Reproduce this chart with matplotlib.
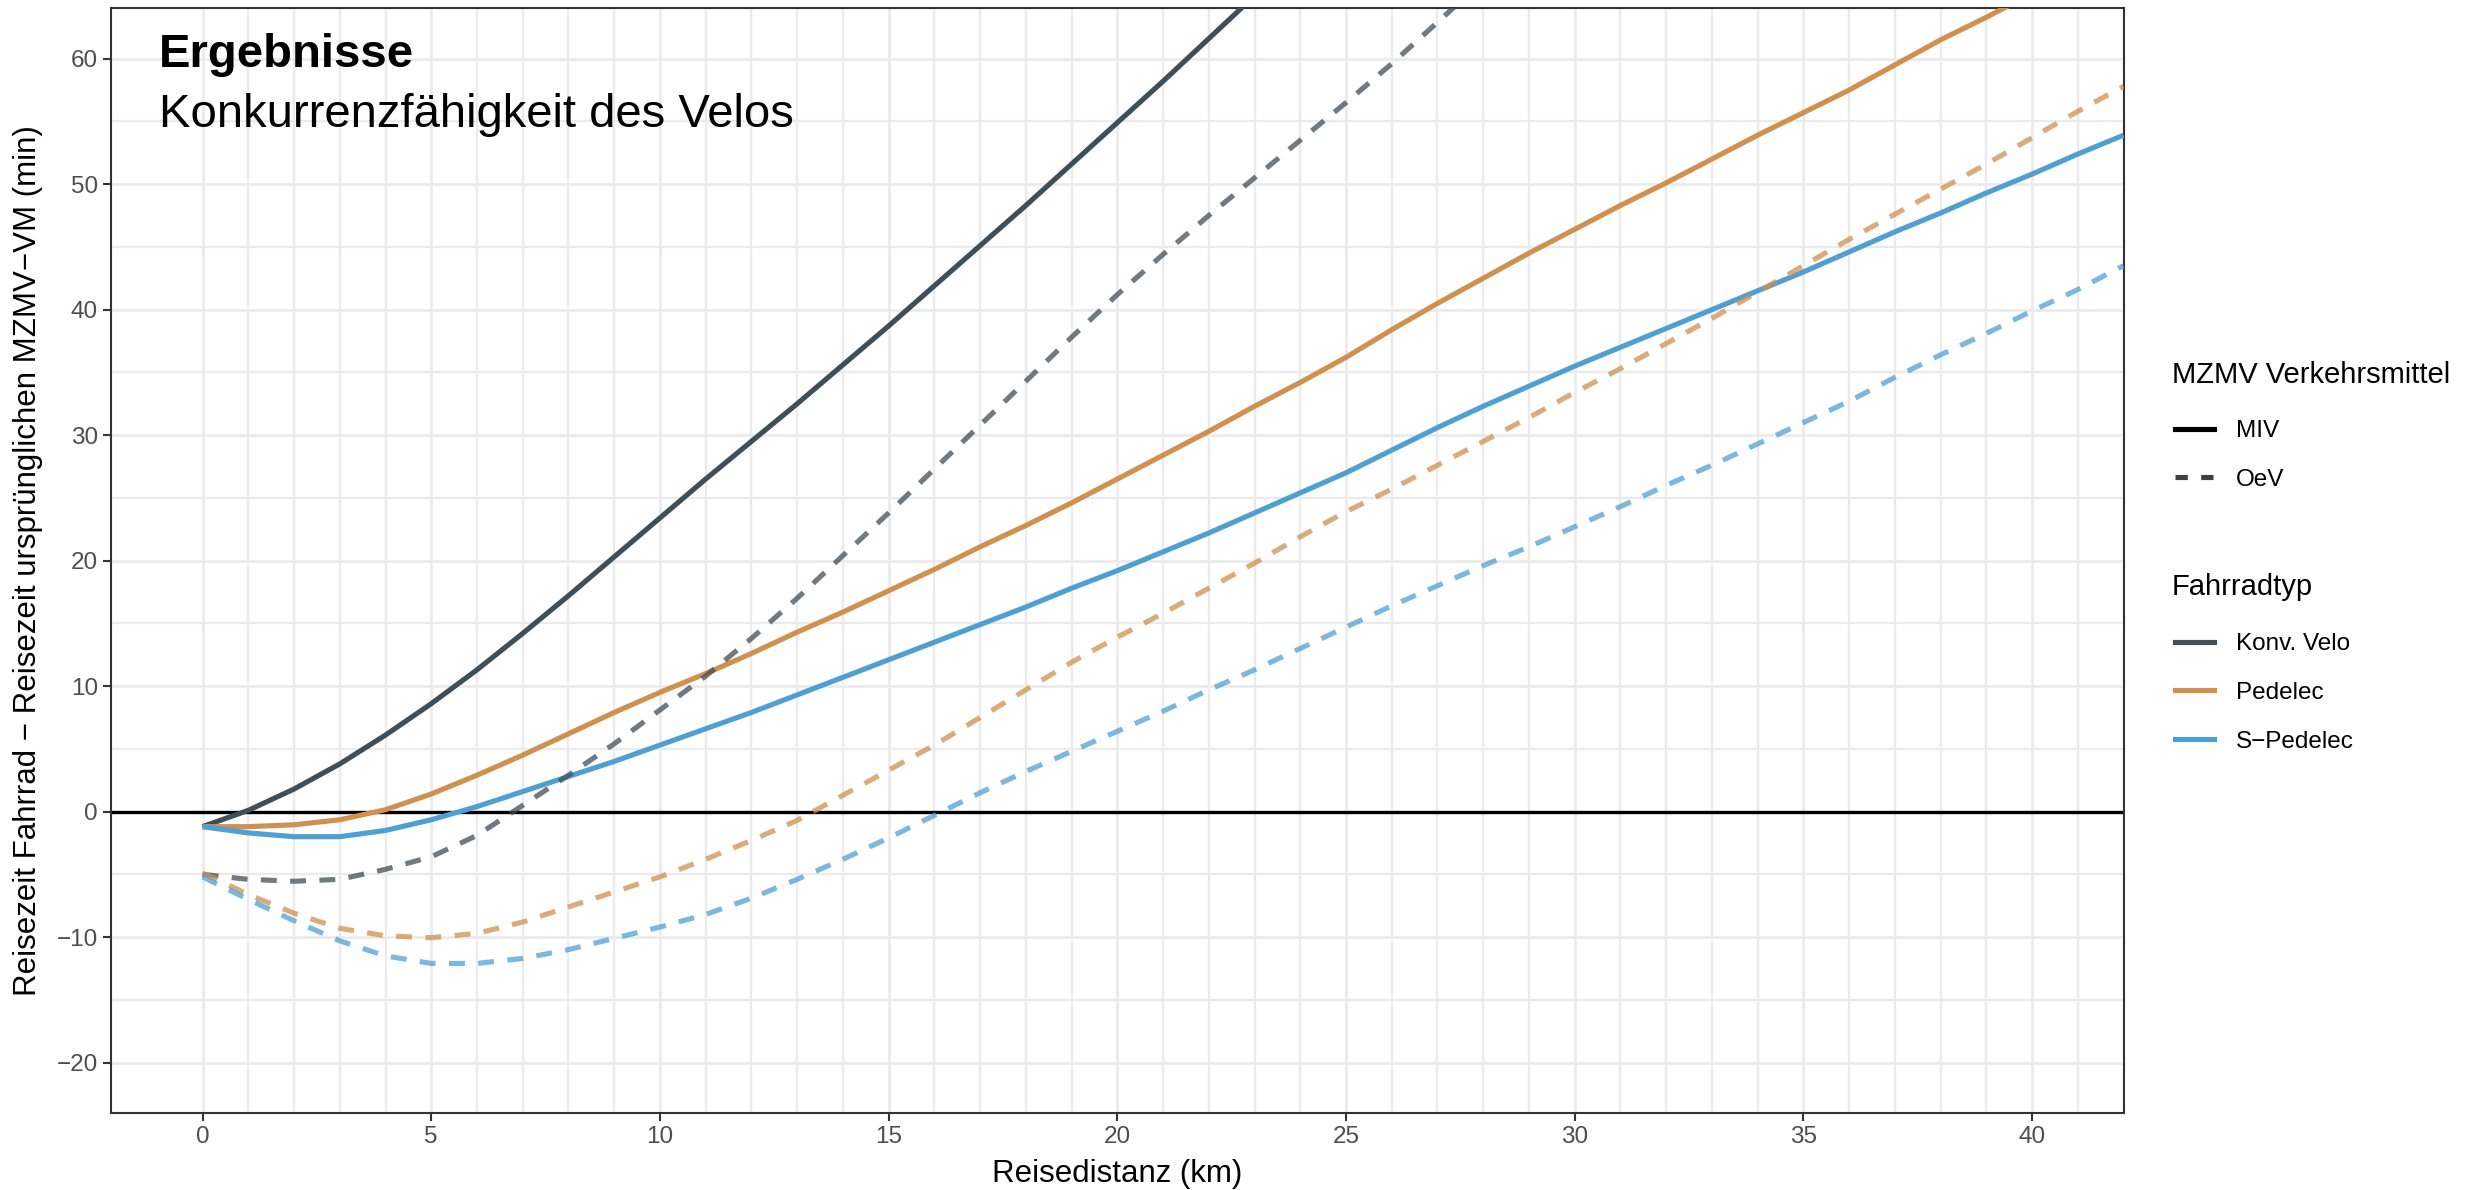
import matplotlib
matplotlib.use("Agg")
import matplotlib.pyplot as plt
from matplotlib.lines import Line2D
import numpy as np

plt.rcParams['font.family'] = ['Liberation Sans', 'DejaVu Sans']

# ---------------- data ----------------
distance_km = list(range(0, 43))

konv_miv = [-1.2, 0.1, 1.8, 3.8, 6.1, 8.6, 11.3, 14.2, 17.2, 20.3, 23.4, 26.5, 29.5, 32.5,
            35.6, 38.7, 41.9, 45.1, 48.3, 51.6, 54.9, 58.2, 61.6, 65.0, 68.4]
konv_oev = [-5.0, -5.4, -5.55, -5.4, -4.6, -3.6, -1.9, 0.5, 2.9, 5.4, 8.1, 10.8, 13.8, 17.0,
            20.4, 23.8, 27.3, 30.8, 34.3, 37.8, 41.2, 44.4, 47.5, 50.5, 53.5, 56.5, 59.6,
            62.9, 66.2]
pedelec_miv = [-1.2, -1.2, -1.05, -0.65, 0.15, 1.4, 2.9, 4.5, 6.2, 7.9, 9.5, 11.0, 12.6, 14.3,
               15.9, 17.6, 19.3, 21.1, 22.8, 24.6, 26.5, 28.4, 30.3, 32.3, 34.2, 36.2, 38.4,
               40.5, 42.5, 44.5, 46.4, 48.3, 50.1, 52.0, 53.9, 55.7, 57.5, 59.5, 61.5, 63.3,
               65.2, 67.1]
pedelec_oev = [-4.9, -6.6, -8.1, -9.3, -9.9, -10.05, -9.7, -8.8, -7.6, -6.4, -5.2, -3.8, -2.3,
               -0.7, 1.3, 3.3, 5.3, 7.5, 9.7, 11.9, 13.9, 15.8, 17.8, 19.8, 21.9, 23.9, 25.7,
               27.6, 29.5, 31.4, 33.4, 35.3, 37.3, 39.3, 41.4, 43.5, 45.6, 47.6, 49.6, 51.6,
               53.7, 55.8, 57.8]
spedelec_miv = [-1.2, -1.7, -2.0, -2.0, -1.5, -0.65, 0.4, 1.6, 2.8, 4.0, 5.3, 6.6, 7.9, 9.3,
                10.7, 12.1, 13.5, 14.9, 16.3, 17.8, 19.2, 20.7, 22.2, 23.8, 25.4, 27.0, 28.8,
                30.6, 32.3, 33.9, 35.5, 37.0, 38.5, 40.0, 41.5, 43.0, 44.6, 46.2, 47.7, 49.3,
                50.8, 52.4, 53.9]
spedelec_oev = [-5.2, -7.0, -8.7, -10.3, -11.5, -12.1, -12.1, -11.7, -11.0, -10.1, -9.2, -8.2,
                -6.9, -5.4, -3.8, -2.1, -0.3, 1.5, 3.2, 4.8, 6.4, 8.0, 9.7, 11.3, 13.0, 14.7,
                16.4, 18.0, 19.6, 21.1, 22.7, 24.3, 26.0, 27.6, 29.3, 31.0, 32.7, 34.6, 36.4,
                38.1, 39.9, 41.6, 43.5]

bike_types = ["Konv. Velo", "Pedelec", "S\u2212Pedelec"]
modes = ["MIV", "OeV"]
colors = {"Konv. Velo": "#404E57", "Pedelec": "#D0904F", "S\u2212Pedelec": "#4F9FD3"}
series = {
    ("Konv. Velo", "MIV"): konv_miv, ("Konv. Velo", "OeV"): konv_oev,
    ("Pedelec", "MIV"): pedelec_miv, ("Pedelec", "OeV"): pedelec_oev,
    ("S\u2212Pedelec", "MIV"): spedelec_miv, ("S\u2212Pedelec", "OeV"): spedelec_oev,
}

x_ticks = [0, 5, 10, 15, 20, 25, 30, 35, 40]
y_ticks = [-20, -10, 0, 10, 20, 30, 40, 50, 60]

# ---------------- figure ----------------
W, H = 2487, 1190
fig = plt.figure(figsize=(W / 100, H / 100), dpi=100)
ax = fig.add_axes([0.04467, 0.0649, 0.85384 - 0.04467, 0.99286 - 0.0649])

LW = 3.7
DASH = (0, (3.1, 2.6))

ax.axhline(0, color="black", lw=2.4, zorder=2)

for mode in modes:
    for bt in bike_types:
        y = series[(bt, mode)]
        x = distance_km[:len(y)]
        if mode == "MIV":
            ax.plot(x, y, color=colors[bt], lw=LW, solid_capstyle="butt",
                    solid_joinstyle="round", zorder=3)
        else:
            ax.plot(x, y, color=colors[bt], lw=LW, linestyle=DASH, alpha=0.75,
                    dash_capstyle="butt", dash_joinstyle="round", zorder=4)

ax.set_xlim(-2, 42)
ax.set_ylim(-24, 64)
ax.set_xticks(x_ticks)
ax.set_yticks(y_ticks)
ax.set_xticks(np.arange(0, 43, 1), minor=True)
ax.set_yticks(np.arange(-20, 65, 5), minor=True)

ax.grid(which="major", color="#EBEBEB", lw=2.0, zorder=0)
ax.grid(which="minor", color="#EBEBEB", lw=1.7, zorder=0)
ax.set_axisbelow(True)

ax.tick_params(which="major", length=5.5, width=1.5, color="#333333",
               labelsize=17.5, labelcolor="#4D4D4D", pad=4)
ax.tick_params(which="minor", length=0)
ax.set_xticklabels([str(v) for v in x_ticks])
ax.set_yticklabels([str(v).replace("-", "\u2212") for v in y_ticks])

for s in ax.spines.values():
    s.set_color("#333333")
    s.set_linewidth(1.5)

# titles
fig.text(159 / W, 1 - 67 / H, "Ergebnisse", fontsize=34, fontweight="bold",
         ha="left", va="baseline")
fig.text(159 / W, 1 - 127 / H, "Konkurrenzf\u00e4higkeit des Velos", fontsize=34,
         ha="left", va="baseline")

# axis labels
fig.text(0.4493, 1 - 1174 / H, "Reisedistanz (km)", fontsize=22.5, ha="center", va="center")
fig.text(28.5 / W, 0.5289,
         "Reisezeit Fahrrad \u2212 Reisezeit urspr\u00fcnglichen MZMV\u2212VM (min)",
         fontsize=22.5, rotation=90, ha="center", va="center")

# legends
h_mode = [Line2D([], [], color="black", lw=LW),
          Line2D([], [], color="black", lw=LW, linestyle=(0, (2.4, 2.6)), alpha=0.75,
                 dash_capstyle="butt")]
h_bike = [Line2D([], [], color=colors[bt], lw=LW) for bt in bike_types]

leg_kw = dict(loc="upper left", frameon=False, fontsize=17.5,
              handlelength=1.6, handletextpad=0.9,
              labelspacing=1.10, borderpad=0, borderaxespad=0)
fig.text(2172 / W, 1 - 383 / H, "MZMV Verkehrsmittel", fontsize=21, ha="left", va="baseline")
fig.legend(h_mode, modes, bbox_to_anchor=(2175 / W, 1 - 420 / H), **leg_kw)
fig.text(2172 / W, 1 - 595 / H, "Fahrradtyp", fontsize=21, ha="left", va="baseline")
fig.legend(h_bike, bike_types, bbox_to_anchor=(2175 / W, 1 - 633 / H), **leg_kw)

fig.savefig("out.png", dpi=100)
